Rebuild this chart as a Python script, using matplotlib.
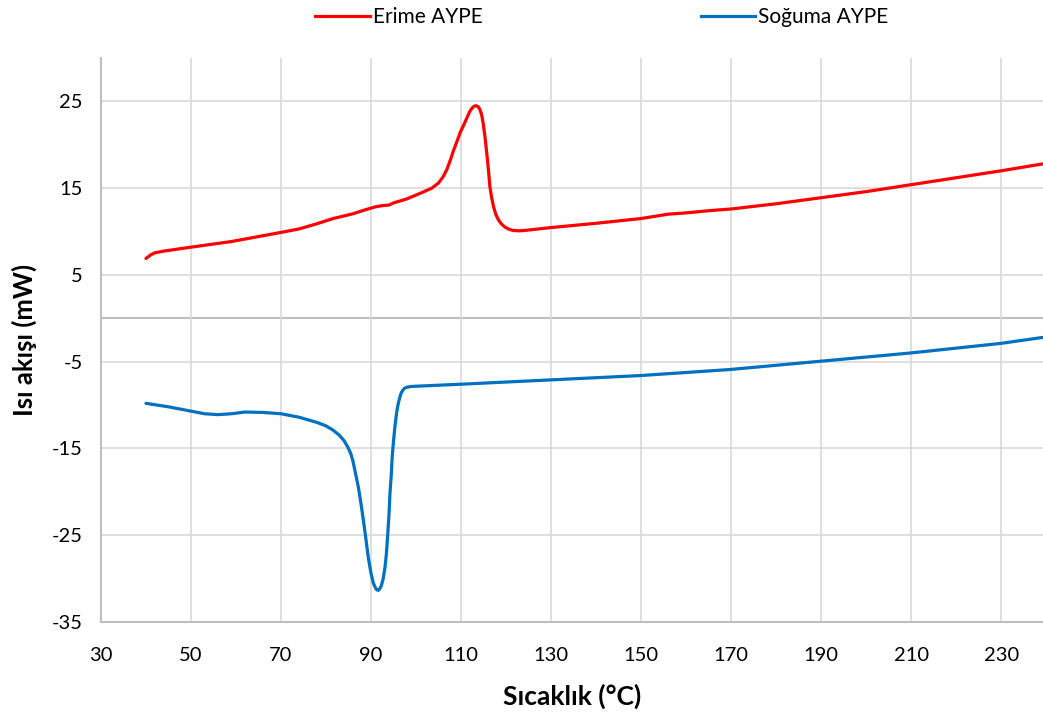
import matplotlib
matplotlib.use("Agg")
import matplotlib.pyplot as plt
from matplotlib.lines import Line2D

# --- data ---
erime_x = [40, 41, 42, 44, 50, 59, 70, 74, 78, 81.6, 86, 89.0, 91, 92.7, 94, 95, 97.9, 100.9,
           103.5, 105, 106, 106.8, 107.6, 108.3, 109.1, 109.8, 110.6, 111.3, 111.9, 112.4,
           112.9, 113.3, 113.8, 114.2, 114.6, 114.9, 115.3, 115.7, 116.1, 116.4, 116.8,
           117.2, 117.7, 118.3, 119.0, 119.8, 120.7, 121.6, 123, 124.6, 129.8, 140, 150,
           156, 160, 165, 170, 180, 190, 200, 210, 220, 230, 239.3]
erime_y = [6.9, 7.3, 7.55, 7.75, 8.2, 8.85, 9.9, 10.3, 10.9, 11.5, 12.05, 12.55, 12.85, 13.0,
           13.05, 13.3, 13.75, 14.4, 15.0, 15.6, 16.3, 17.1, 18.2, 19.3, 20.4, 21.4, 22.3,
           23.1, 23.8, 24.2, 24.45, 24.5, 24.4, 24.05, 23.4, 22.5, 21.0, 19.1, 17.0, 15.2,
           13.9, 12.9, 12.0, 11.35, 10.85, 10.5, 10.25, 10.12, 10.08, 10.15, 10.45, 10.95,
           11.5, 12.0, 12.15, 12.4, 12.6, 13.2, 13.9, 14.6, 15.4, 16.2, 17.0, 17.8]

soguma_x = [40, 45, 50, 53, 56, 59, 62, 66, 70, 74, 78, 80, 81.6, 83, 84, 84.8, 85.5, 86.0,
            86.4, 86.8, 87.2, 87.9, 88.7, 89.4, 90.0, 90.5, 91.0, 91.3, 91.6, 91.9, 92.3,
            92.7, 93.1, 93.4, 93.7, 94.0, 94.2, 94.5, 94.7, 95.0, 95.3, 95.6, 95.8, 96.1,
            96.4, 96.7, 97.1, 97.5, 97.9, 99, 109.8, 129.8, 149.8, 169.8, 189.8, 209.8,
            229.8, 239.3]
soguma_y = [-9.8, -10.2, -10.7, -11.0, -11.1, -11.0, -10.8, -10.85, -11.0, -11.4, -12.0,
            -12.4, -12.9, -13.5, -14.1, -14.8, -15.6, -16.5, -17.5, -18.5, -19.5, -21.8,
            -24.8, -27.6, -29.4, -30.5, -31.1, -31.3, -31.35, -31.2, -30.8, -30.0, -28.7,
            -27.2, -25.0, -22.5, -20.2, -18.0, -16.0, -14.1, -12.5, -11.2, -10.5, -9.7,
            -9.1, -8.6, -8.25, -8.05, -7.95, -7.85, -7.6, -7.1, -6.6, -5.9, -4.95, -4.0,
            -2.9, -2.2]

x_ticks = [30, 50, 70, 90, 110, 130, 150, 170, 190, 210, 230]
y_ticks = [-35, -25, -15, -5, 5, 15, 25]

labels = ["Erime AYPE", "Soğuma AYPE"]
colors = ["#ff0000", "#0070c0"]

plt.rcParams['font.family'] = ['Lato', 'DejaVu Sans']
plt.rcParams['axes.unicode_minus'] = False

fig = plt.figure(figsize=(10.43, 7.13), dpi=100)
ax = fig.add_axes([101/1043, 1 - 622/713, 1 - 101/1043, (622 - 58)/713])

ax.plot(erime_x, erime_y, color=colors[0], lw=2.3, solid_capstyle='round',
        solid_joinstyle='round', zorder=3)
ax.plot(soguma_x, soguma_y, color=colors[1], lw=2.3, solid_capstyle='round',
        solid_joinstyle='round', zorder=3)

ax.set_xlim(30, 239.3)
ax.set_ylim(-35, 30)
ax.set_xticks(x_ticks)
ax.set_yticks(y_ticks)
ax.grid(True, color="#d9d9d9", lw=1.2, zorder=0)
ax.axhline(0, color="#bfbfbf", lw=1.5, zorder=1)
for s in ['top', 'right']:
    ax.spines[s].set_visible(False)
for s in ['left', 'bottom']:
    ax.spines[s].set_color("#bfbfbf")
    ax.spines[s].set_linewidth(1.5)
ax.tick_params(length=0, labelsize=14.5, colors="#000000")
ax.tick_params(axis='x', pad=18)
ax.tick_params(axis='y', pad=13)

ax.set_xlabel("Sıcaklık (°C)", fontsize=19, fontweight='bold', labelpad=14)
ax.set_ylabel("Isı akışı (mW)", fontsize=18.5, fontweight='bold', labelpad=11)

handles = [Line2D([0], [0], color=c, lw=2.3) for c in colors]
fig.legend(handles, labels, loc='center', bbox_to_anchor=(602/1043, 1 - 17/713), ncol=2,
           frameon=False, fontsize=15, handlelength=2.6, handletextpad=0.15,
           columnspacing=10.5)

fig.savefig("out.png", dpi=100)
